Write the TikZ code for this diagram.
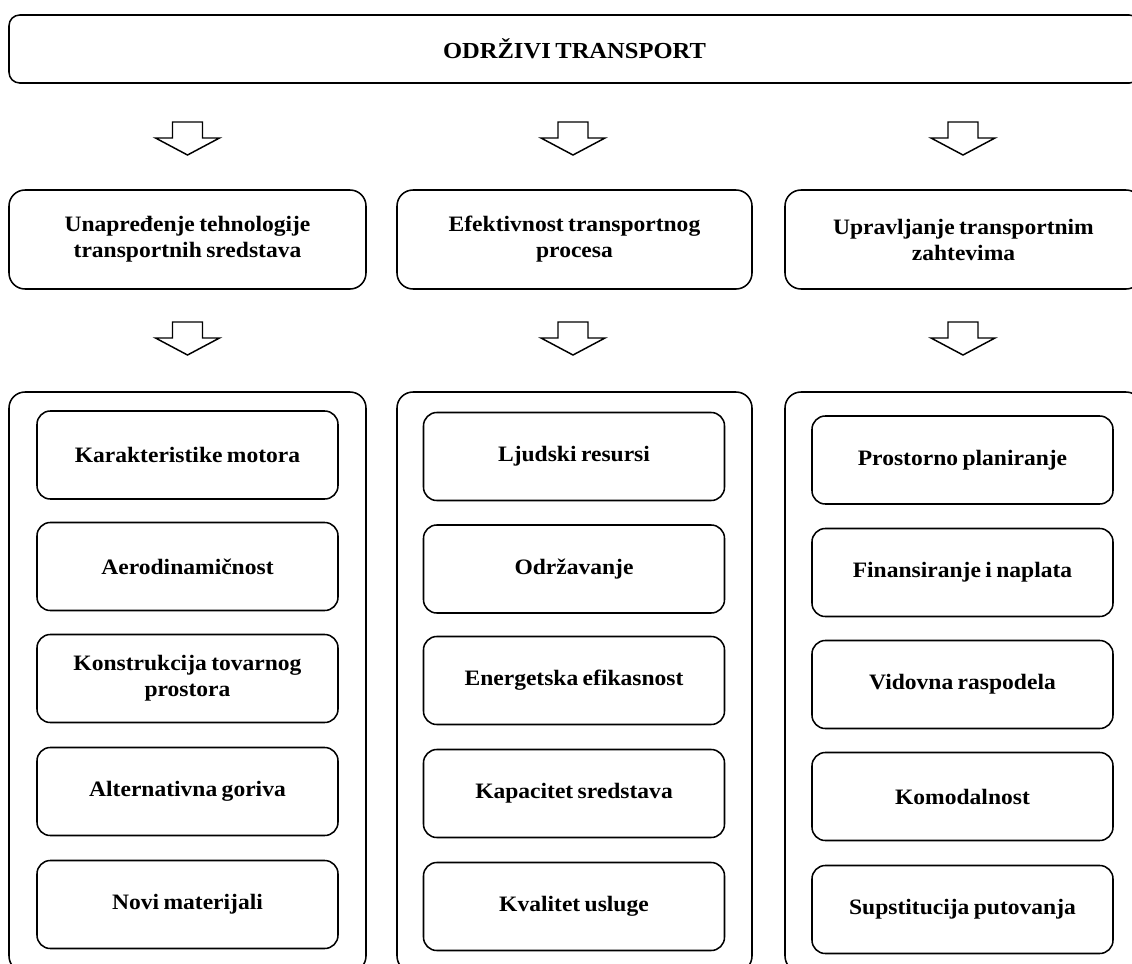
\documentclass[tikz,border=0pt]{standalone}
\usepackage{fontspec}
\setmainfont{Liberation Serif}[FakeStretch=1.07, WordSpace=0.75]
\begin{document}
\begin{tikzpicture}[x=0.75pt,y=-0.75pt,
  every node/.style={inner sep=0pt, outer sep=0pt},
  frame/.style={draw=black, line width=1.15pt, fill=white},
  titlebox/.style={frame, rounded corners=8pt, minimum width=848.25pt, minimum height=51pt,
    font=\fontsize{17.2}{21}\selectfont\bfseries},
  groupbox/.style={frame, rounded corners=12pt, minimum height=74.25pt, align=center,
    font=\fontsize{16.5}{19.5}\selectfont\bfseries},
  panel/.style={frame, rounded corners=12pt, minimum height=435pt},
  itembox/.style={frame, rounded corners=10pt, minimum width=225.75pt, minimum height=66pt,
    align=center, font=\fontsize{16.5}{19.5}\selectfont\bfseries},
  blockarrow/.style={draw=black, line width=1.1pt, fill=white, line join=miter}
]
\useasboundingbox (0,0) rectangle (1132,964);
\clip (0,0) rectangle (1132,964);

% block arrow pointing down, placed by its top centre
\tikzset{pics/downarrow/.style={code={
  \draw[blockarrow] (-15,0) -- (15,0) -- (15,16) -- (32,16) -- (0,33) -- (-32,16) -- (-15,16) -- cycle;
}}}

% top level
\node[titlebox] (top) at (574.5,49) {ODRŽIVI TRANSPORT};

% second level
\node[groupbox, minimum width=267.75pt] (g1) at (187.5,239.5) {Unapređenje tehnologije\\transportnih sredstava};
\node[groupbox, minimum width=266.25pt] (g2) at (574.5,239.5) {Efektivnost transportnog\\procesa};
\node[groupbox, minimum width=267.75pt] (g3) at (963.5,239.5) {Upravljanje transportnim\\zahtevima};

% arrows between levels
\pic at (187.5,122) {downarrow};
\pic at (573,122) {downarrow};
\pic at (963,122) {downarrow};
\pic at (187.5,322) {downarrow};
\pic at (573,322) {downarrow};
\pic at (963,322) {downarrow};

% panels holding the measures
\node[panel, minimum width=267.75pt] (p1) at (187.5,682) {};
\node[panel, minimum width=266.25pt] (p2) at (574.5,682) {};
\node[panel, minimum width=267.75pt] (p3) at (963.5,682) {};

% first column
\node[itembox] (a1) at (187.5,455)   {Karakteristike motora};
\node[itembox] (a2) at (187.5,566.5) {Aerodinamičnost};
\node[itembox] (a3) at (187.5,678.5) {Konstrukcija tovarnog\\prostora};
\node[itembox] (a4) at (187.5,791.5) {Alternativna goriva};
\node[itembox] (a5) at (187.5,904.5) {Novi materijali};

% second column
\node[itembox] (b1) at (574,456.5) {Ljudski resursi};
\node[itembox] (b2) at (574,569)   {Održavanje};
\node[itembox] (b3) at (574,680.5) {Energetska efikasnost};
\node[itembox] (b4) at (574,793.5) {Kapacitet sredstava};
\node[itembox] (b5) at (574,906.5) {Kvalitet usluge};

% third column
\node[itembox] (c1) at (962.5,460)   {Prostorno planiranje};
\node[itembox] (c2) at (962.5,572.5) {Finansiranje i naplata};
\node[itembox] (c3) at (962.5,684.5) {Vidovna raspodela};
\node[itembox] (c4) at (962.5,796.5) {Komodalnost};
\node[itembox] (c5) at (962.5,909.5) {Supstitucija putovanja};
\end{tikzpicture}
\end{document}
